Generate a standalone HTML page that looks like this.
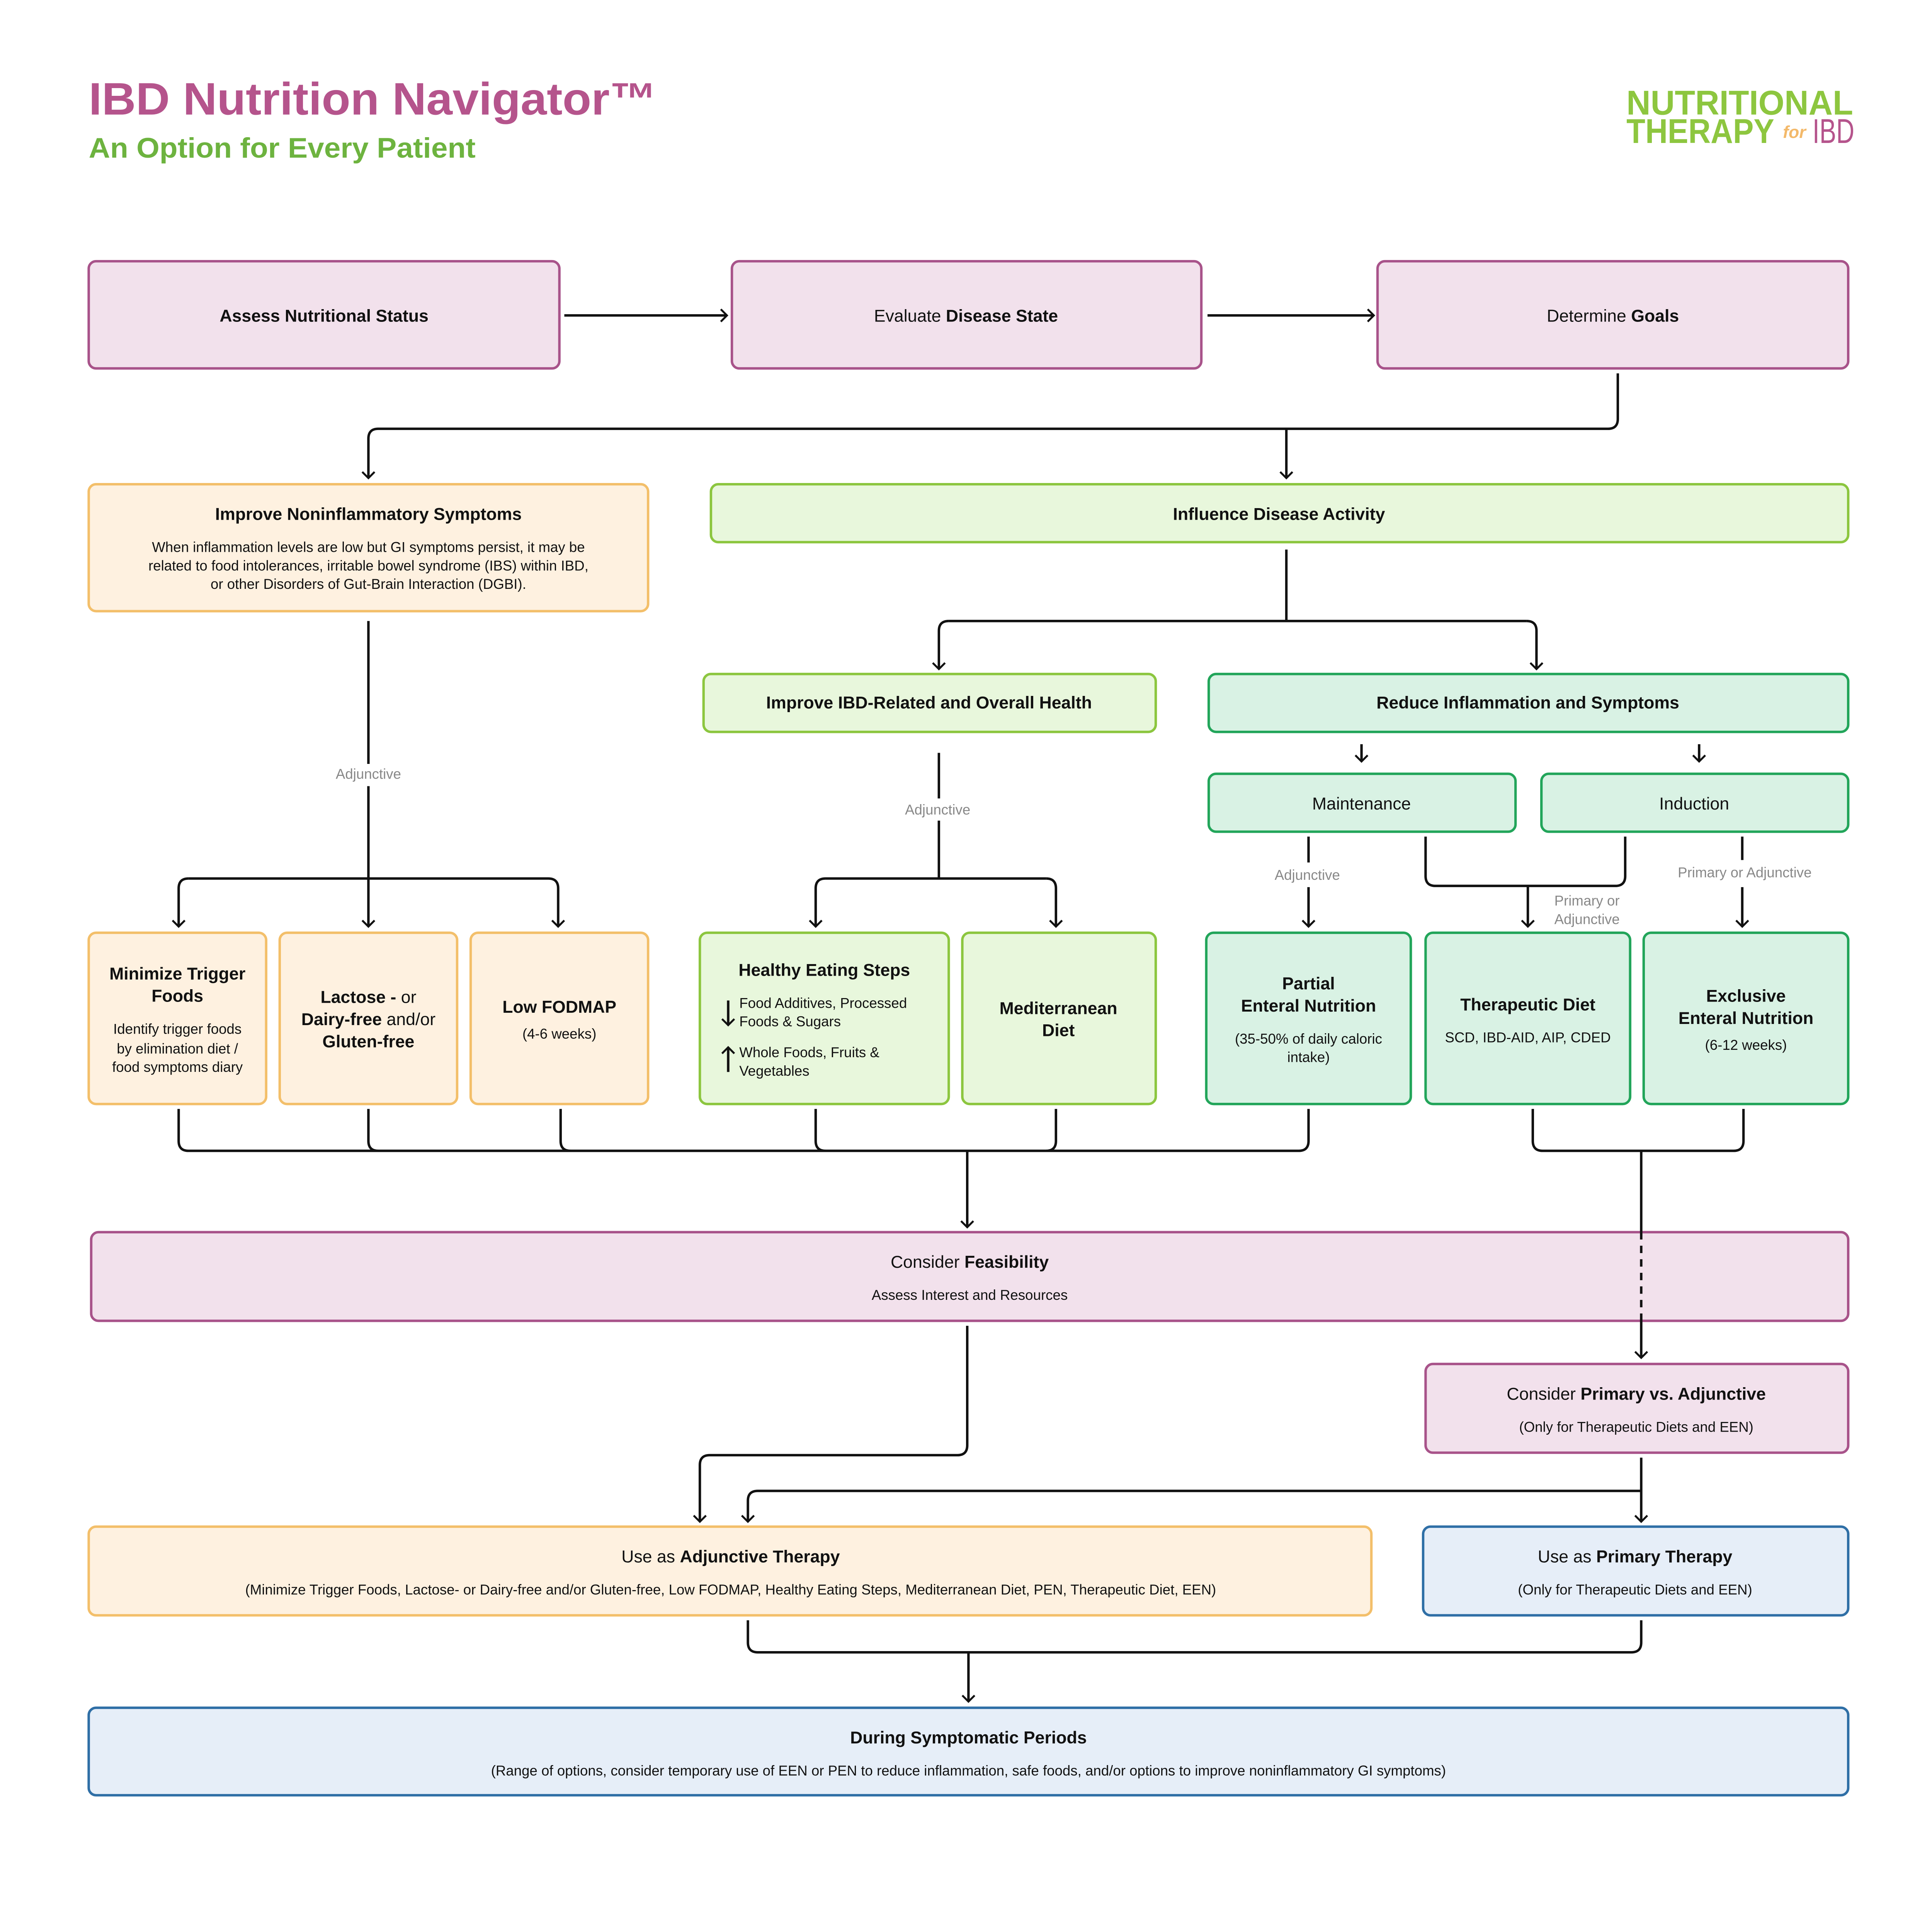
<!DOCTYPE html>
<html><head><meta charset="utf-8"><style>html,body{margin:0;padding:0;background:#fff;overflow:hidden}svg{display:block;width:100vw;height:auto}</style></head>
<body>
<svg xmlns="http://www.w3.org/2000/svg" viewBox="0 0 1568 1544" font-family="'Liberation Sans', sans-serif">
<defs>
<marker id="a" markerWidth="12" markerHeight="12" refX="6" refY="6" orient="auto" markerUnits="userSpaceOnUse">
<path d="M1,1 L6,6 L1,11" fill="none" stroke="#111" stroke-width="1.6"/>
</marker>
</defs>
<rect width="1568" height="1544" fill="#fff"/>
<text x="72" y="93" font-size="37" font-weight="bold" fill="#b5548c" textLength="461" lengthAdjust="spacingAndGlyphs">IBD Nutrition Navigator™</text>
<text x="72" y="128" font-size="23" font-weight="bold" fill="#6db33f" textLength="314" lengthAdjust="spacingAndGlyphs">An Option for Every Patient</text>
<text x="1320" y="93" font-size="28" font-weight="bold" fill="#8dc63f" textLength="184" lengthAdjust="spacingAndGlyphs" font-family="'Liberation Sans Narrow','Liberation Sans',sans-serif">NUTRITIONAL</text>
<text x="1320" y="116" font-size="28" font-weight="bold" fill="#8dc63f" textLength="120" lengthAdjust="spacingAndGlyphs" font-family="'Liberation Sans Narrow','Liberation Sans',sans-serif">THERAPY</text>
<text x="1447" y="112" font-size="14" font-weight="bold" font-style="italic" fill="#f3b96a">for</text>
<text x="1471" y="116" font-size="28" fill="#b5548c" textLength="34" lengthAdjust="spacingAndGlyphs" font-family="'Liberation Sans Narrow','Liberation Sans',sans-serif">IBD</text>

<g stroke-width="2">
<rect x="72" y="212" width="382" height="87" rx="6" fill="#f2e1ec" stroke="#a8538a"/>
<rect x="594" y="212" width="381" height="87" rx="6" fill="#f2e1ec" stroke="#a8538a"/>
<rect x="1118" y="212" width="382" height="87" rx="6" fill="#f2e1ec" stroke="#a8538a"/>
<rect x="72" y="393" width="454" height="103" rx="6" fill="#fef1e0" stroke="#f3bf6a"/>
<rect x="577" y="393" width="923" height="47" rx="6" fill="#e8f7dc" stroke="#8cc63f"/>
<rect x="571" y="547" width="367" height="47" rx="6" fill="#e8f7dc" stroke="#8cc63f"/>
<rect x="981" y="547" width="519" height="47" rx="6" fill="#d9f2e4" stroke="#22a55a"/>
<rect x="981" y="628" width="249" height="47" rx="6" fill="#d9f2e4" stroke="#22a55a"/>
<rect x="1251" y="628" width="249" height="47" rx="6" fill="#d9f2e4" stroke="#22a55a"/>
<rect x="72" y="757" width="144" height="139" rx="6" fill="#fef1e0" stroke="#f3bf6a"/>
<rect x="227" y="757" width="144" height="139" rx="6" fill="#fef1e0" stroke="#f3bf6a"/>
<rect x="382" y="757" width="144" height="139" rx="6" fill="#fef1e0" stroke="#f3bf6a"/>
<rect x="568" y="757" width="202" height="139" rx="6" fill="#e8f7dc" stroke="#8cc63f"/>
<rect x="781" y="757" width="157" height="139" rx="6" fill="#e8f7dc" stroke="#8cc63f"/>
<rect x="979" y="757" width="166" height="139" rx="6" fill="#d9f2e4" stroke="#22a55a"/>
<rect x="1157" y="757" width="166" height="139" rx="6" fill="#d9f2e4" stroke="#22a55a"/>
<rect x="1334" y="757" width="166" height="139" rx="6" fill="#d9f2e4" stroke="#22a55a"/>
<rect x="74" y="1000" width="1426" height="72" rx="6" fill="#f2e1ec" stroke="#a8538a"/>
<rect x="1157" y="1107" width="343" height="72" rx="6" fill="#f2e1ec" stroke="#a8538a"/>
<rect x="72" y="1239" width="1041" height="72" rx="6" fill="#fef1e0" stroke="#f3bf6a"/>
<rect x="1155" y="1239" width="345" height="72" rx="6" fill="#e6eef8" stroke="#2f6fa6"/>
<rect x="72" y="1386" width="1428" height="71" rx="6" fill="#e6eef8" stroke="#2f6fa6"/>
</g>

<g fill="none" stroke="#111" stroke-width="2">
<path d="M458,256 H590" marker-end="url(#a)"/>
<path d="M980,256 H1115" marker-end="url(#a)"/>
<path d="M1313,303 V340 q0,8 -8,8 H307 q-8,0 -8,8 V388" marker-end="url(#a)"/>
<path d="M1044,348 V388" marker-end="url(#a)"/>
<path d="M1044,446 V504 M770,504 H1239"/>
<path d="M770,504 q-8,0 -8,8 V543" marker-end="url(#a)"/>
<path d="M1239,504 q8,0 8,8 V543" marker-end="url(#a)"/>
<path d="M1105,604 V618" marker-end="url(#a)"/>
<path d="M1379,604 V618" marker-end="url(#a)"/>
<path d="M299,504 V620 M299,638 V752" marker-end="url(#a)"/>
<path d="M153,713 H445"/>
<path d="M153,713 q-8,0 -8,8 V752" marker-end="url(#a)"/>
<path d="M445,713 q8,0 8,8 V752" marker-end="url(#a)"/>
<path d="M762,611 V648 M762,666 V713 M670,713 H849"/>
<path d="M670,713 q-8,0 -8,8 V752" marker-end="url(#a)"/>
<path d="M849,713 q8,0 8,8 V752" marker-end="url(#a)"/>
<path d="M1062,679 V700 M1062,720 V752" marker-end="url(#a)"/>
<path d="M1157,679 V711 q0,8 8,8 H1311 q8,0 8,-8 V679"/>
<path d="M1240,719 V752" marker-end="url(#a)"/>
<path d="M1414,679 V698 M1414,720 V752" marker-end="url(#a)"/>
<path d="M145,900 V926 q0,8 8,8 H1054 q8,0 8,-8 V900"/>
<path d="M299,900 V926 q0,8 8,8 M455,900 V926 q0,8 8,8 M662,900 V926 q0,8 8,8 M857,900 V926 q0,8 -8,8"/>
<path d="M785,934 V996" marker-end="url(#a)"/>
<path d="M1244,900 V926 q0,8 8,8 H1407 q8,0 8,-8 V900"/>
<path d="M1332,934 V1000"/>
<path d="M1332,1000 V1072" stroke-dasharray="6,5"/>
<path d="M1332,1072 V1102" marker-end="url(#a)"/>
<path d="M785,1076 V1173 q0,8 -8,8 H576 q-8,0 -8,8 V1235" marker-end="url(#a)"/>
<path d="M1332,1183 V1235" marker-end="url(#a)"/>
<path d="M1332,1210 H615 q-8,0 -8,8 V1235" marker-end="url(#a)"/>
<path d="M607,1315 V1333 q0,8 8,8 H1324 q8,0 8,-8 V1315"/>
<path d="M786,1341 V1381" marker-end="url(#a)"/>
<path d="M591,812 V832" marker-end="url(#a)"/>
<path d="M591,870 V850" marker-end="url(#a)"/>
</g>

<g font-size="14" fill="#111" text-anchor="middle">
<text x="263" y="261" font-weight="bold">Assess Nutritional Status</text>
<text x="784" y="261">Evaluate <tspan font-weight="bold">Disease State</tspan></text>
<text x="1309" y="261">Determine <tspan font-weight="bold">Goals</tspan></text>
<text x="299" y="422" font-weight="bold">Improve Noninflammatory  Symptoms</text>
<g font-size="11.5"><text x="299" y="448">When inflammation levels are low but GI symptoms persist, it may be</text>
<text x="299" y="463">related to food intolerances, irritable bowel syndrome (IBS) within IBD,</text>
<text x="299" y="478">or other Disorders of Gut-Brain Interaction (DGBI).</text></g>
<text x="1038" y="422" font-weight="bold">Influence Disease Activity</text>
<text x="754" y="575" font-weight="bold">Improve IBD-Related and Overall Health</text>
<text x="1240" y="575" font-weight="bold">Reduce Inflammation and Symptoms</text>
<text x="1105" y="657">Maintenance</text>
<text x="1375" y="657">Induction</text>
<g font-size="11.5" fill="#888"><text x="299" y="632">Adjunctive</text><text x="761" y="661">Adjunctive</text><text x="1061" y="714">Adjunctive</text>
<text x="1288" y="735">Primary or</text><text x="1288" y="750">Adjunctive</text><text x="1416" y="712">Primary or Adjunctive</text></g>
<text x="144" y="795" font-weight="bold">Minimize Trigger</text><text x="144" y="813" font-weight="bold">Foods</text>
<g font-size="11.5"><text x="144" y="839">Identify trigger foods</text><text x="144" y="855">by elimination diet /</text><text x="144" y="870">food symptoms diary</text></g>
<text x="299" y="814"><tspan font-weight="bold">Lactose -</tspan> or</text>
<text x="299" y="832"><tspan font-weight="bold">Dairy-free</tspan> and/or</text>
<text x="299" y="850" font-weight="bold">Gluten-free</text>
<text x="454" y="822" font-weight="bold">Low FODMAP</text><text x="454" y="843" font-size="11.5">(4-6 weeks)</text>
<text x="669" y="792" font-weight="bold">Healthy Eating Steps</text>
<g font-size="11.5" text-anchor="start"><text x="600" y="818">Food Additives, Processed</text><text x="600" y="833">Foods &amp; Sugars</text>
<text x="600" y="858">Whole Foods, Fruits &amp;</text><text x="600" y="873">Vegetables</text></g>
<text x="859" y="823" font-weight="bold">Mediterranean</text><text x="859" y="841" font-weight="bold">Diet</text>
<text x="1062" y="803" font-weight="bold">Partial</text><text x="1062" y="821" font-weight="bold">Enteral Nutrition</text>
<g font-size="11.5"><text x="1062" y="847">(35-50% of daily caloric</text><text x="1062" y="862">intake)</text></g>
<text x="1240" y="820" font-weight="bold">Therapeutic Diet</text><text x="1240" y="846" font-size="11.5">SCD, IBD-AID, AIP, CDED</text>
<text x="1417" y="813" font-weight="bold">Exclusive</text><text x="1417" y="831" font-weight="bold">Enteral Nutrition</text><text x="1417" y="852" font-size="11.5">(6-12 weeks)</text>
<text x="787" y="1029">Consider <tspan font-weight="bold">Feasibility</tspan></text>
<text x="787" y="1055" font-size="11.5">Assess Interest and Resources</text>
<text x="1328" y="1136">Consider <tspan font-weight="bold">Primary vs. Adjunctive</tspan></text>
<text x="1328" y="1162" font-size="11.5">(Only for Therapeutic Diets and EEN)</text>
<text x="593" y="1268">Use as <tspan font-weight="bold">Adjunctive Therapy</tspan></text>
<text x="593" y="1294" font-size="11.5">(Minimize Trigger Foods, Lactose- or Dairy-free and/or Gluten-free, Low FODMAP, Healthy Eating Steps, Mediterranean  Diet, PEN, Therapeutic Diet, EEN)</text>
<text x="1327" y="1268">Use as <tspan font-weight="bold">Primary Therapy</tspan></text>
<text x="1327" y="1294" font-size="11.5">(Only for Therapeutic Diets and EEN)</text>
<text x="786" y="1415" font-weight="bold">During Symptomatic Periods</text>
<text x="786" y="1441" font-size="11.5">(Range of options, consider temporary use of EEN or PEN  to reduce inflammation, safe foods, and/or options to improve noninflammatory GI symptoms)</text>
</g>
</svg>
</body></html>
